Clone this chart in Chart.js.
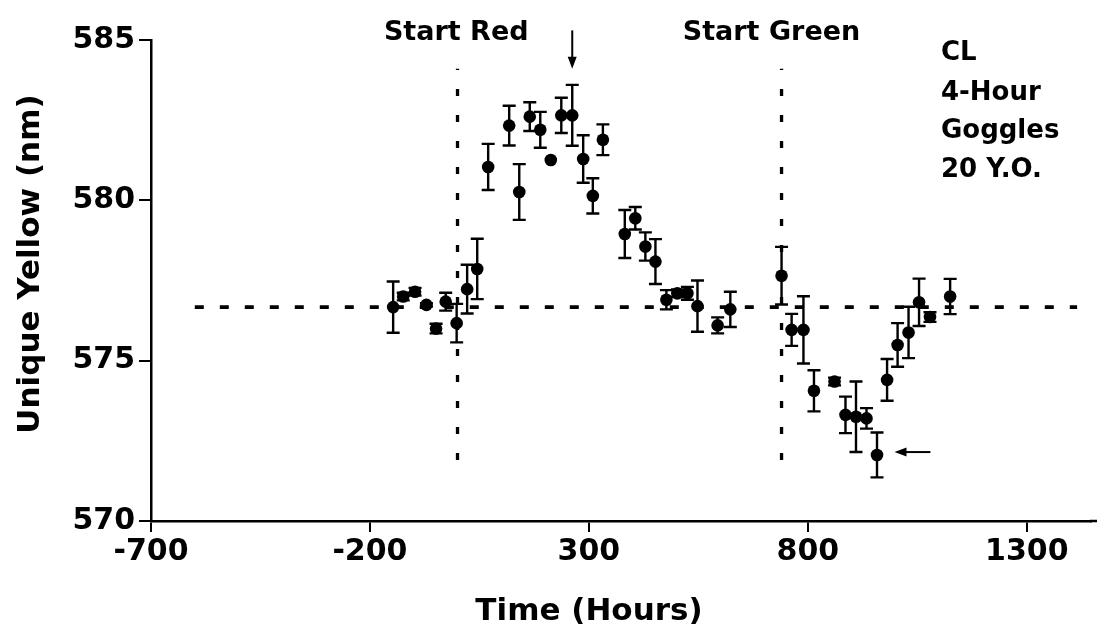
<!DOCTYPE html>
<html>
<head>
<meta charset="utf-8">
<title>Unique Yellow vs Time</title>
<script src="https://cdn.jsdelivr.net/npm/chart.js@4.4.1/dist/chart.umd.min.js"></script>
<style>
  html, body { margin: 0; padding: 0; background: #fff; overflow: hidden; }
  #wrap { width: 1097px; height: 639px; }
  canvas { display: block; }
</style>
</head>
<body>
<div id="wrap"><canvas id="c" width="1097" height="639"></canvas></div>
<script>
// Unique yellow settings (nm) over time (hours), with error bars
const hours = [-147, -124, -97, -71, -49, -27, -2, 22, 45, 70, 118, 141, 165, 189, 213, 237, 262, 287, 309, 332,
               382, 406, 429, 452, 477, 502, 525, 548, 594, 623,
               740, 763, 790, 814, 861, 886, 910, 934, 958, 981, 1005, 1030, 1054, 1079, 1125];
const yellow = [576.67, 577.0, 577.15, 576.74, 576.0, 576.84, 576.17, 577.23, 577.86, 581.04, 582.33, 580.26, 582.61, 582.2, 581.26, 582.65, 582.65, 581.29, 580.14, 581.89,
                578.95, 579.44, 578.56, 578.09, 576.9, 577.1, 577.1, 576.7, 576.1, 576.6,
                577.65, 575.96, 575.96, 574.06, 574.35, 573.31, 573.25, 573.2, 572.06, 574.4, 575.49, 575.88, 576.82, 576.36, 577.0];
const errors = [0.8, 0.12, 0.12, 0.05, 0.15, 0.28, 0.6, 0.76, 0.94, 0.72, 0.62, 0.87, 0.45, 0.56, 0, 0.55, 0.95, 0.74, 0.55, 0.48,
                0.75, 0.35, 0.44, 0.7, 0.3, 0.12, 0.2, 0.8, 0.25, 0.55,
                0.9, 0.5, 1.05, 0.64, 0.12, 0.57, 1.1, 0.32, 0.7, 0.65, 0.68, 0.8, 0.74, 0.15, 0.55];

// axis ticks
const xTicks = [-700, -200, 300, 800, 1300];
const yTicks = [570, 575, 580, 585];

// baseline (pre-exposure mean) and the starts of the two goggle phases
const baselineX = [-600, 1415];
const baselineY = 576.67;
const phaseStartX = [0, 740];
const phaseSpanY = [571.9, 584.1];
const phaseNames = ['Start Red', 'Start Green'];
const phaseNameX = [-3, 717];
const phaseNameY = 585.0;

// arrows marking the extreme settings
const peakArrowX = 262;
const peakArrowY = [585.3, 584.1];
const troughArrowY = 572.15;
const troughArrowX = [1080, 998];

// subject info block
const infoLines = ['CL', '4-Hour', 'Goggles', '20 Y.O.'];
const infoX = 1104;
const infoY = [584.38, 583.13, 581.95, 580.73];

const FONT = 'DejaVu Sans';

const points = hours.map((h, i) => ({ x: h, y: yellow[i] }));

const overlay = {
  id: 'overlay',
  beforeDatasetsDraw(chart) {
    const { ctx, scales: { x, y } } = chart;
    ctx.save();
    ctx.strokeStyle = '#000';
    ctx.lineWidth = 2.4;
    const cap = 6.5;
    hours.forEach((h, i) => {
      if (!errors[i]) return;
      const px = x.getPixelForValue(h);
      const t = y.getPixelForValue(yellow[i] + errors[i]);
      const b = y.getPixelForValue(yellow[i] - errors[i]);
      ctx.beginPath();
      ctx.moveTo(px, t); ctx.lineTo(px, b);
      ctx.moveTo(px - cap, t); ctx.lineTo(px + cap, t);
      ctx.moveTo(px - cap, b); ctx.lineTo(px + cap, b);
      ctx.stroke();
    });
    ctx.restore();
  },
  afterDraw(chart) {
    const { ctx, chartArea, scales: { x, y } } = chart;
    ctx.save();
    ctx.fillStyle = '#000';
    ctx.strokeStyle = '#000';

    // time axis runs on to the edge of the canvas
    ctx.lineWidth = 2.5;
    ctx.beginPath();
    ctx.moveTo(chartArea.right - 1, chartArea.bottom);
    ctx.lineTo(chart.width, chartArea.bottom);
    ctx.stroke();

    // phase labels
    ctx.font = `bold 27px "${FONT}"`;
    ctx.textAlign = 'center';
    ctx.textBaseline = 'alphabetic';
    phaseNames.forEach((n, i) => {
      ctx.fillText(n, x.getPixelForValue(phaseNameX[i]), y.getPixelForValue(phaseNameY));
    });

    // info block
    ctx.font = `bold 26px "${FONT}"`;
    ctx.textAlign = 'left';
    infoLines.forEach((t, i) => {
      ctx.fillText(t, x.getPixelForValue(infoX), y.getPixelForValue(infoY[i]));
    });

    // down arrow at the red peak
    ctx.lineWidth = 2;
    let ax = x.getPixelForValue(peakArrowX);
    let a0 = y.getPixelForValue(peakArrowY[0]);
    let a1 = y.getPixelForValue(peakArrowY[1]);
    ctx.beginPath(); ctx.moveTo(ax, a0); ctx.lineTo(ax, a1 - 8); ctx.stroke();
    ctx.beginPath(); ctx.moveTo(ax, a1); ctx.lineTo(ax - 4.5, a1 - 12); ctx.lineTo(ax + 4.5, a1 - 12); ctx.closePath(); ctx.fill();

    // left arrow at the green trough
    let ay = y.getPixelForValue(troughArrowY);
    let b0 = x.getPixelForValue(troughArrowX[0]);
    let b1 = x.getPixelForValue(troughArrowX[1]);
    ctx.beginPath(); ctx.moveTo(b0, ay); ctx.lineTo(b1 + 8, ay); ctx.stroke();
    ctx.beginPath(); ctx.moveTo(b1, ay); ctx.lineTo(b1 + 12, ay - 4.5); ctx.lineTo(b1 + 12, ay + 4.5); ctx.closePath(); ctx.fill();

    // axis titles
    ctx.font = `bold 31px "${FONT}"`;
    ctx.textAlign = 'center';
    ctx.textBaseline = 'middle';
    ctx.fillText('Time (Hours)', 589, 612);
    ctx.translate(31, 264);
    ctx.rotate(-Math.PI / 2);
    ctx.fillText('Unique Yellow (nm)', 0, 0);
    ctx.restore();
  }
};

const dashedLine = (data, dash, width) => ({
  type: 'line',
  data,
  borderColor: '#000',
  borderWidth: width,
  borderDash: dash,
  pointRadius: 0,
  fill: false,
  clip: false,
  order: 2
});

const tickFont = { family: FONT, weight: 'bold', size: 30 };

new Chart(document.getElementById('c'), {
  type: 'scatter',
  data: {
    datasets: [
      {
        data: points,
        backgroundColor: '#000',
        borderColor: '#000',
        borderWidth: 0,
        pointRadius: 6.3,
        pointHoverRadius: 6.3,
        order: 1
      },
      dashedLine(baselineX.map(v => ({ x: v, y: baselineY })), [9, 16], 3.8),
      dashedLine(phaseSpanY.map(v => ({ x: phaseStartX[0], y: v })), [7, 19], 3.3),
      dashedLine(phaseSpanY.map(v => ({ x: phaseStartX[1], y: v })), [7, 19], 3.3)
    ]
  },
  options: {
    responsive: false,
    animation: false,
    events: [],
    layout: { padding: { top: 40, right: 0, left: 0, bottom: 0 } },
    plugins: { legend: { display: false }, tooltip: { enabled: false } },
    scales: {
      x: {
        type: 'linear',
        min: -700,
        max: 1446,
        afterBuildTicks: s => { s.ticks = xTicks.map(v => ({ value: v })); },
        afterFit: s => { s.height = 118; },
        border: { display: true, color: '#000', width: 2.5 },
        grid: { display: true, drawOnChartArea: false, drawTicks: true, tickLength: 11, color: '#000', lineWidth: 2 },
        ticks: { color: '#000', font: tickFont, padding: 2, maxRotation: 0, autoSkip: false, callback: v => String(v) }
      },
      y: {
        type: 'linear',
        min: 570,
        max: 585,
        afterBuildTicks: s => { s.ticks = yTicks.map(v => ({ value: v })); },
        afterFit: s => { s.width = 151; },
        border: { display: true, color: '#000', width: 2.5 },
        grid: { display: true, drawOnChartArea: false, drawTicks: true, tickLength: 12, color: '#000', lineWidth: 2 },
        ticks: { color: '#000', font: tickFont, padding: 4, autoSkip: false, callback: v => String(v) }
      }
    }
  },
  plugins: [overlay]
});
</script>
</body>
</html>
